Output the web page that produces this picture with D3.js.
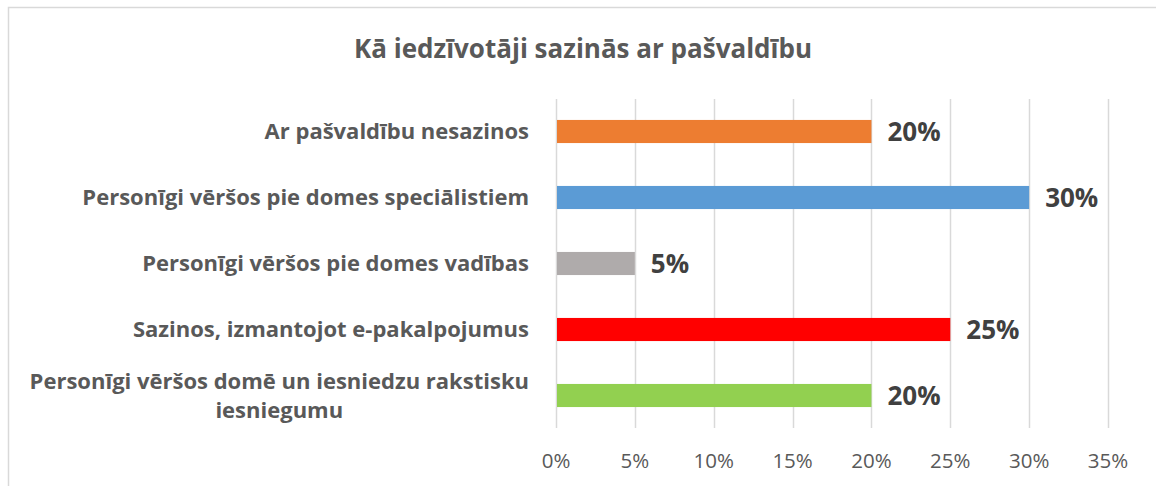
<!DOCTYPE html>
<html>
<head>
<meta charset="utf-8">
<script src="https://cdn.jsdelivr.net/npm/d3@7"></script>
<style>
  body { margin: 0; background: #fff; }
  svg { display: block; font-family: "Open Sans", sans-serif; }
</style>
</head>
<body>
<svg width="1156" height="486"></svg>
<script>
// chart data, top row first
var categories = [
  "Ar pašvaldību nesazinos",
  "Personīgi vēršos pie domes speciālistiem",
  "Personīgi vēršos pie domes vadības",
  "Sazinos, izmantojot e-pakalpojumus",
  "Personīgi vēršos domē un iesniedzu rakstisku|iesniegumu"
];
var values = [20, 30, 5, 25, 20];
var colors = ["#ED7D31", "#5B9BD5", "#AFABAB", "#FF0000", "#92D050"];
var ticks = [0, 5, 10, 15, 20, 25, 30, 35];
var title = "Kā iedzīvotāji sazinās ar pašvaldību";

var svg = d3.select("svg");

// chart frame (right and bottom edges fall outside the picture)
svg.append("rect")
  .attr("x", 8.5).attr("y", 7.5)
  .attr("width", 1200).attr("height", 600)
  .attr("fill", "#fff")
  .attr("stroke", "#d9d9d9")
  .attr("stroke-width", 1.5);

var x = d3.scaleLinear().domain([0, 35]).range([556, 1108]);
var y = d3.scaleBand().domain(d3.range(categories.length)).range([98.5, 428.5]).paddingInner(0.65).paddingOuter(0.325);

// gridlines
svg.append("g").selectAll("line")
  .data(ticks)
  .join("line")
  .attr("x1", d => Math.round(x(d)) + 0.5)
  .attr("x2", d => Math.round(x(d)) + 0.5)
  .attr("y1", 99).attr("y2", 428)
  .attr("stroke", "#d9d9d9")
  .attr("stroke-width", 1.5);

// x axis labels
svg.append("g").selectAll("text")
  .data(ticks)
  .join("text")
  .attr("x", d => x(d))
  .attr("y", 468)
  .attr("text-anchor", "middle")
  .attr("font-size", 20.5)
  .attr("fill", "#595959")
  .text(d => d + "%");

// bars
svg.append("g").selectAll("rect")
  .data(values)
  .join("rect")
  .attr("x", x(0) + 1)
  .attr("y", (d, i) => y(i))
  .attr("width", d => x(d) - x(0) - 1)
  .attr("height", y.bandwidth())
  .attr("fill", (d, i) => colors[i]);

// value labels
svg.append("g").selectAll("text")
  .data(values)
  .join("text")
  .attr("x", d => x(d) + 16)
  .attr("y", (d, i) => y(i) + y.bandwidth() / 2 + 9.3)
  .attr("font-size", 26)
  .attr("font-weight", "bold")
  .attr("fill", "#404040")
  .text(d => d + "%");

// category labels, right aligned; wrapped label is centred on its longest line
var catG = svg.append("g");
categories.forEach(function(c, i) {
  var lines = c.split("|");
  var cy = y(i) + y.bandwidth() / 2;
  var t = catG.append("text")
    .attr("font-size", 22)
    .attr("font-weight", "bold")
    .attr("fill", "#595959");
  if (lines.length == 1) {
    t.attr("x", 529).attr("y", cy + 7.8).attr("text-anchor", "end").text(c);
  } else {
    var lh = 29;
    lines.forEach(function(l, k) {
      t.append("tspan").attr("y", cy + 7.5 + (k - (lines.length - 1) / 2) * lh).text(l);
    });
    var w = 0;
    t.selectAll("tspan").each(function() { w = Math.max(w, this.getComputedTextLength()); });
    t.attr("text-anchor", "middle");
    t.selectAll("tspan").attr("x", 529 - w / 2);
  }
});

// title
svg.append("text")
  .attr("x", 583)
  .attr("y", 58)
  .attr("text-anchor", "middle")
  .attr("font-size", 26)
  .attr("font-weight", "bold")
  .attr("fill", "#595959")
  .text(title);
</script>
</body>
</html>
